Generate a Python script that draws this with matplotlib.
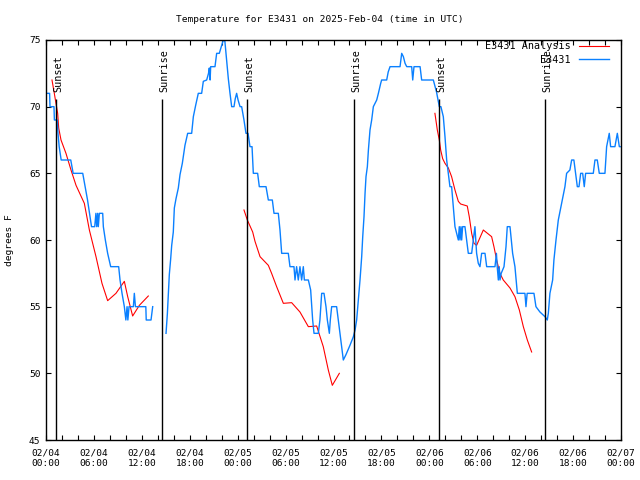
import numpy as np
import matplotlib
matplotlib.use("Agg")
import matplotlib.pyplot as plt

# Observed temperature (E3431), hours since 02/04 00:00 UTC, gap marked with nan
obs_hours = [
    0.2, 0.45, 0.5, 1.0, 1.05, 1.4, 1.5, 1.65, 1.9, 2.0, 3.1, 3.4, 4.6, 4.9, 5.2,
    5.45, 5.7, 6.1, 6.25, 6.35, 6.47, 6.55, 6.68, 7.1, 7.18, 7.43, 7.72, 8.1, 9.1,
    9.27, 9.52, 9.81, 10.0, 10.15, 10.25, 10.4, 10.94, 11.06, 11.2, 12.5, 12.55,
    13.15, 13.36, np.nan,
    15.03, 15.2, 15.32, 15.44, 15.6, 15.74, 15.94, 16.07, 16.28, 16.57, 16.78, 17.07,
    17.4, 17.74, 18.24, 18.45, 18.74, 19.07, 19.49, 19.7, 20.12, 20.35, 20.45, 20.55,
    20.62, 21.16, 21.37, 21.7, 22.0, 22.2, 22.4, 22.62, 22.83, 23.04, 23.25, 23.54,
    23.7, 23.87, 24.05, 24.3, 24.5, 24.79, 25.04, 25.3, 25.54, 25.8, 25.96, 26.5,
    26.71, 27.55, 27.84, 28.34, 28.55, 29.09, 29.3, 29.51, 30.34, 30.55, 31.05,
    31.18, 31.38, 31.59, 31.8, 32.01, 32.22, 32.35, 32.85, 33.14, 33.39, 33.56,
    34.1, 34.3, 34.52, 34.81, 35.06, 35.23, 35.48, 35.6, 35.77, 36.39, 36.6, 36.81,
    37.02, 37.23, 37.56, 38.06, 38.49, 38.7, 38.9, 39.11, 39.32, 39.53, 39.66,
    39.82, 39.95, 40.07, 40.24, 40.37, 40.57, 40.78, 40.99, 41.41, 41.62, 41.91,
    42.03, 42.66, 42.85, 43.08, 44.33, 44.54, 44.75, 44.96, 45.17, 45.79, 45.92,
    46.08, 46.84, 47.04, 48.3, 48.5, 48.9, 49.25, 49.45, 49.75, 49.96, 50.17,
    50.38, 50.58, 50.79, 51.0, 51.21, 51.63, 51.75, 51.84, 51.96, 52.05, 52.17,
    52.46, 52.67, 52.88, 53.3, 53.51, 53.71, 53.92, 54.13, 54.34, 54.55, 54.97,
    55.18, 56.22, 56.4, 56.5, 56.64, 56.75, 56.85, 57.0, 57.35, 57.6, 57.76, 58.1,
    58.43, 58.72, 59.02, 59.97, 60.1, 60.25, 61.1, 61.35, 61.85, 62.48, 62.77,
    62.9, 63.1, 63.44, 63.6, 63.86, 64.15, 64.57, 64.98, 65.19, 65.6, 65.82, 66.1,
    66.32, 66.53, 66.74, 66.95, 67.2, 67.4, 67.57, 68.53, 68.74, 69.03, 69.28,
    69.99, 70.2, 70.53, 70.7, 71.24, 71.54, 71.79, 71.9,
]
obs_temps = [
    71, 71, 70, 70, 69, 69, 68, 67, 66, 66, 66, 65, 65, 64, 63,
    62, 61, 61, 62, 61, 62, 61, 62, 62, 61, 60, 59, 58, 58,
    57, 56, 55, 54, 55, 54, 55, 55, 56, 55, 55, 54,
    54, 55, np.nan,
    53, 54.5, 56, 57.4, 58.5, 59.6, 60.6, 62.4, 63.1, 63.9, 64.9, 65.75,
    67.1, 68, 68, 69.25, 70.1, 71, 71, 71.9, 72, 72.5, 72.9, 72,
    73, 73, 74, 74, 74.6, 75, 74.9, 73.5, 72.1, 71, 70, 70,
    70.6, 71, 70.5, 70, 70, 69, 68, 68, 67, 67, 65, 65,
    64, 64, 63, 63, 62, 62, 60.75, 59, 59, 58, 58,
    57, 58, 57, 58, 57, 58, 57, 57, 56.25, 54, 53,
    53, 54, 56, 56, 55, 54, 53, 54, 55, 55, 54, 53,
    52, 51, 51.4, 52.1, 52.75, 53.25, 54, 55.5, 57, 58.75, 60.25,
    61.75, 63.5, 64.75, 65.5, 66.75, 68.25, 69, 70, 70.5, 71, 71.75,
    72, 72, 72.6, 73, 73, 74, 73.75, 73.25, 73, 73, 72,
    73, 73, 72, 72, 72, 71.1, 70, 70, 69.25, 67.75, 66,
    65, 64, 64, 62.5, 61, 60, 61, 60, 61, 60, 61,
    61, 60, 59, 59, 60, 61, 59, 58.25, 58, 59, 59,
    58, 58, 59, 58, 57, 58, 57, 57.5, 58, 59.5, 61, 61,
    59, 58, 56, 56, 55, 56, 56, 55, 54.6, 54.25, 54,
    54.5, 56, 57, 58.5, 60, 61.5, 62.75, 64, 65, 65.25, 66, 66,
    65, 64, 64, 65, 65, 64, 65, 65, 66, 66, 65,
    65, 67, 68, 67, 67, 68, 67, 67,
]

# Analysis temperature (E3431 Analysis), three segments
ana_hours = [
    0.75, 1.04, 1.46, 1.59, 1.88, 2.5, 3.13, 3.76, 4.8, 5.43, 6.26, 7.01, 7.72,
    8.76, 9.81, 10.23, 10.85, 11.69, 12.81, np.nan,
    24.79, 25.21, 25.88, 26.17, 26.8, 27.84, 28.25, 28.88, 29.72, 30.76, 31.8,
    32.85, 33.89, 34.72, 35.35, 35.85, 36.73, np.nan,
    48.7, 49.0, 49.25, 49.42, 49.67, 49.96, 50.38, 50.79, 51.21, 51.63, 51.92,
    52.75, 53.0, 53.3, 53.59, 53.92, 54.76, 55.8, 56.09, 56.43, 56.84, 57.26,
    58.1, 58.72, 59.27, 59.77, 60.27, 60.81,
]
ana_temps = [
    72, 71, 69.5, 68.4, 67.5, 66.5, 65.25, 64.1, 62.75, 60.75, 58.75, 56.75, 55.45,
    56, 56.9, 55.75, 54.3, 55.1, 55.8, np.nan,
    62.25, 61.5, 60.6, 59.9, 58.75, 58.1, 57.5, 56.5, 55.25, 55.3, 54.6,
    53.5, 53.55, 52, 50.25, 49.1, 50, np.nan,
    69.5, 68.25, 67.5, 66.75, 66.1, 65.75, 65.4, 64.75, 63.75, 62.9, 62.7,
    62.55, 61.75, 60.5, 59.75, 59.6, 60.75, 60.25, 59.5, 58.5, 57.5, 57,
    56.4, 55.75, 54.75, 53.5, 52.5, 51.6,
]

# sun events (hours) and their labels
sun_hours = [1.25, 14.56, 25.2, 38.6, 49.25, 62.53]
sun_labels = ["Sunset", "Sunrise", "Sunset", "Sunrise", "Sunset", "Sunrise"]

tick_hours = [0, 6, 12, 18, 24, 30, 36, 42, 48, 54, 60, 66, 72]
tick_labels = [
    "02/04\n00:00", "02/04\n06:00", "02/04\n12:00", "02/04\n18:00",
    "02/05\n00:00", "02/05\n06:00", "02/05\n12:00", "02/05\n18:00",
    "02/06\n00:00", "02/06\n06:00", "02/06\n12:00", "02/06\n18:00",
    "02/07\n00:00",
]

plt.rcParams["font.family"] = "DejaVu Sans Mono"
fs = 6.8

fig = plt.figure(figsize=(6.4, 4.8), dpi=100)
ax = fig.add_axes([46 / 640, 40 / 480, 575 / 640, 400 / 480])

ax.plot(ana_hours, ana_temps, color="#ff0000", lw=0.8, label="E3431 Analysis")
ax.plot(obs_hours, obs_temps, color="#0a80ff", lw=1.0, label="E3431")

ax.vlines(sun_hours, 45, 70.575, color="black", lw=1.0)
for h, s in zip(sun_hours, sun_labels):
    ax.text(h + 0.25, 71.1, s, rotation=90, ha="center", va="bottom", fontsize=fs + 0.5)

ax.set_xlim(0, 72)
ax.set_ylim(45, 75)
ax.set_xticks(tick_hours)
ax.set_xticklabels(tick_labels, fontsize=fs, linespacing=1.3)
ax.set_xticks(np.arange(0, 73, 2), minor=True)
ax.set_yticks(range(45, 76, 5))
ax.tick_params(axis="y", labelsize=fs)
ax.tick_params(which="both", direction="in", top=True, right=True, length=3.5, width=0.8)
ax.tick_params(axis="x", pad=6)
ax.tick_params(axis="y", pad=4)
for sp in ax.spines.values():
    sp.set_linewidth(1.0)

fig.text(0.5, 1 - 19 / 480, "Temperature for E3431 on 2025-Feb-04 (time in UTC)",
         ha="center", va="center", fontsize=fs)
fig.text(10 / 640, 0.5, "degrees F", rotation=90, ha="center", va="center", fontsize=fs)

ax.legend(loc="upper right", frameon=False, fontsize=fs + 0.5, markerfirst=False,
          handlelength=3.0, labelspacing=0.35, borderaxespad=0.2,
          bbox_to_anchor=(0.99, 1.012))

fig.savefig("out.png", dpi=100)
